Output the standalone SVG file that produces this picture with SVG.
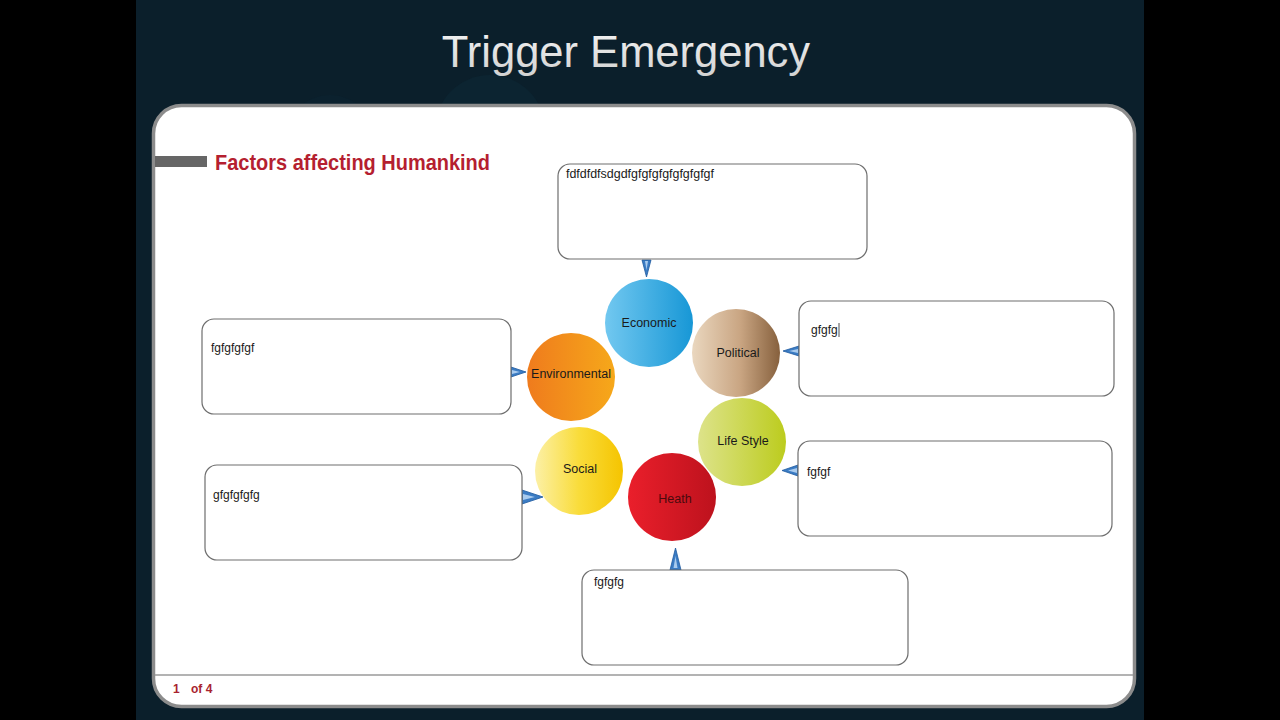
<svg xmlns="http://www.w3.org/2000/svg" width="1280" height="720" viewBox="0 0 1280 720">
<defs>
<style>
.box{fill:#fff;stroke:#6e6e6e;stroke-width:1.2}
.bt{font-family:"Liberation Sans",Arial,sans-serif;font-size:12px;fill:#1a1a1a}
.cl{font-family:"Liberation Sans",Arial,sans-serif;font-size:12.5px;fill:#1a1a1a;text-anchor:middle}
.ptr{fill:#3b7cc4;stroke:#1f5aa0;stroke-width:0.8}
.ptri{fill:#a9cbee}
</style>
<linearGradient id="gEco" x1="0" y1="0" x2="1" y2="0"><stop offset="0" stop-color="#72c8f0"/><stop offset="1" stop-color="#1797d6"/></linearGradient>
<linearGradient id="gPol" x1="0" y1="0" x2="1" y2="0"><stop offset="0" stop-color="#ead7bf"/><stop offset="0.55" stop-color="#c9a582"/><stop offset="1" stop-color="#86603d"/></linearGradient>
<linearGradient id="gEnv" x1="0" y1="0" x2="1" y2="0"><stop offset="0" stop-color="#ef7b1d"/><stop offset="1" stop-color="#f6a81a"/></linearGradient>
<linearGradient id="gLif" x1="0" y1="0" x2="1" y2="0"><stop offset="0" stop-color="#dde38a"/><stop offset="1" stop-color="#bccc1e"/></linearGradient>
<linearGradient id="gSoc" x1="0" y1="0" x2="1" y2="0"><stop offset="0" stop-color="#fcf0a6"/><stop offset="0.5" stop-color="#f9dc3a"/><stop offset="1" stop-color="#f5c400"/></linearGradient>
<linearGradient id="gHea" x1="0" y1="0" x2="1" y2="0"><stop offset="0" stop-color="#ea1f2b"/><stop offset="1" stop-color="#bd121d"/></linearGradient>
<linearGradient id="gTitle" x1="0" y1="0" x2="0" y2="1"><stop offset="0" stop-color="#f4f4f4"/><stop offset="1" stop-color="#d2d2d2"/></linearGradient>
</defs>

<rect x="0" y="0" width="1280" height="720" fill="#000"/>
<rect x="136" y="0" width="1008" height="720" fill="#0b1f2b"/>
<circle cx="490" cy="130" r="55" fill="#0c2431"/>
<circle cx="330" cy="140" r="45" fill="#0b212e"/>

<text x="626" y="67" text-anchor="middle" font-family="Liberation Sans, Arial, sans-serif" font-size="43.5" fill="url(#gTitle)">Trigger Emergency</text>

<g id="panel">
<rect x="153.5" y="105.5" width="981" height="601" rx="28" fill="#fff" stroke="#8c8c8c" stroke-width="3.5"/>
<line x1="155" y1="675" x2="1133" y2="675" stroke="#9a9a9a" stroke-width="1.5"/>
<rect x="155" y="156" width="52" height="11" fill="#666"/>
<text x="215" y="170" font-family="Liberation Sans, Arial, sans-serif" font-weight="bold" font-size="22" fill="#b51f30" textLength="275" lengthAdjust="spacingAndGlyphs">Factors affecting Humankind</text>
<text x="173" y="693" font-family="Liberation Sans, Arial, sans-serif" font-weight="bold" font-size="12" fill="#a8232f">1</text>
<text x="191" y="693" font-family="Liberation Sans, Arial, sans-serif" font-weight="bold" font-size="12" fill="#a8232f">of 4</text>
</g>

<g id="connectors">
<polygon class="ptr" points="642,260 651,260 646.5,277"/>
<polygon class="ptri" points="645,261 648,261 646.5,270"/>
<polygon class="ptr" points="670,570 681,570 675.5,548"/>
<polygon class="ptri" points="673.5,568 677.5,568 675.5,556"/>
<polygon class="ptr" points="511,367 511,377 526,372"/>
<polygon class="ptri" points="512,370 512,374 520,372"/>
<polygon class="ptr" points="522,490 522,504 543,497"/>
<polygon class="ptri" points="523,494 523,500 535,497"/>
<polygon class="ptr" points="799,346 799,356 783,351"/>
<polygon class="ptri" points="798,349 798,353 789,351"/>
<polygon class="ptr" points="798,465 798,476 782,470.5"/>
<polygon class="ptri" points="797,468 797,473 788,470.5"/>
</g>

<g id="economic"><circle cx="649" cy="323" r="44" fill="url(#gEco)"/><text class="cl" x="649" y="327" fill="#0d3552">Economic</text></g>
<g id="political"><circle cx="736" cy="353" r="44" fill="url(#gPol)"/><text class="cl" x="738" y="357">Political</text></g>
<g id="environmental"><circle cx="571" cy="377" r="44" fill="url(#gEnv)"/><text class="cl" x="571" y="378">Environmental</text></g>
<g id="lifestyle"><circle cx="742" cy="442" r="44" fill="url(#gLif)"/><text class="cl" x="743" y="445">Life Style</text></g>
<g id="social"><circle cx="579" cy="471" r="44" fill="url(#gSoc)"/><text class="cl" x="580" y="473">Social</text></g>
<g id="heath"><circle cx="672" cy="497" r="44" fill="url(#gHea)"/><text class="cl" x="675" y="503" style="fill:#4a0a0e">Heath</text></g>

<g id="box-top"><rect class="box" x="558" y="164" width="309" height="95" rx="12"/><text class="bt" x="566" y="178" textLength="148" lengthAdjust="spacingAndGlyphs">fdfdfdfsdgdfgfgfgfgfgfgfgfgf</text></g>
<g id="box-left1"><rect class="box" x="202" y="319" width="309" height="95" rx="12"/><text class="bt" x="211" y="352">fgfgfgfgf</text></g>
<g id="box-right1"><rect class="box" x="799" y="301" width="315" height="95" rx="12"/><text class="bt" x="811" y="334">gfgfg</text><line x1="839" y1="323" x2="839" y2="337" stroke="#222" stroke-width="0.8"/></g>
<g id="box-left2"><rect class="box" x="205" y="465" width="317" height="95" rx="12"/><text class="bt" x="213" y="499">gfgfgfgfg</text></g>
<g id="box-right2"><rect class="box" x="798" y="441" width="314" height="95" rx="12"/><text class="bt" x="807" y="476">fgfgf</text></g>
<g id="box-bottom"><rect class="box" x="582" y="570" width="326" height="95" rx="12"/><text class="bt" x="594" y="586">fgfgfg</text></g>
</svg>
